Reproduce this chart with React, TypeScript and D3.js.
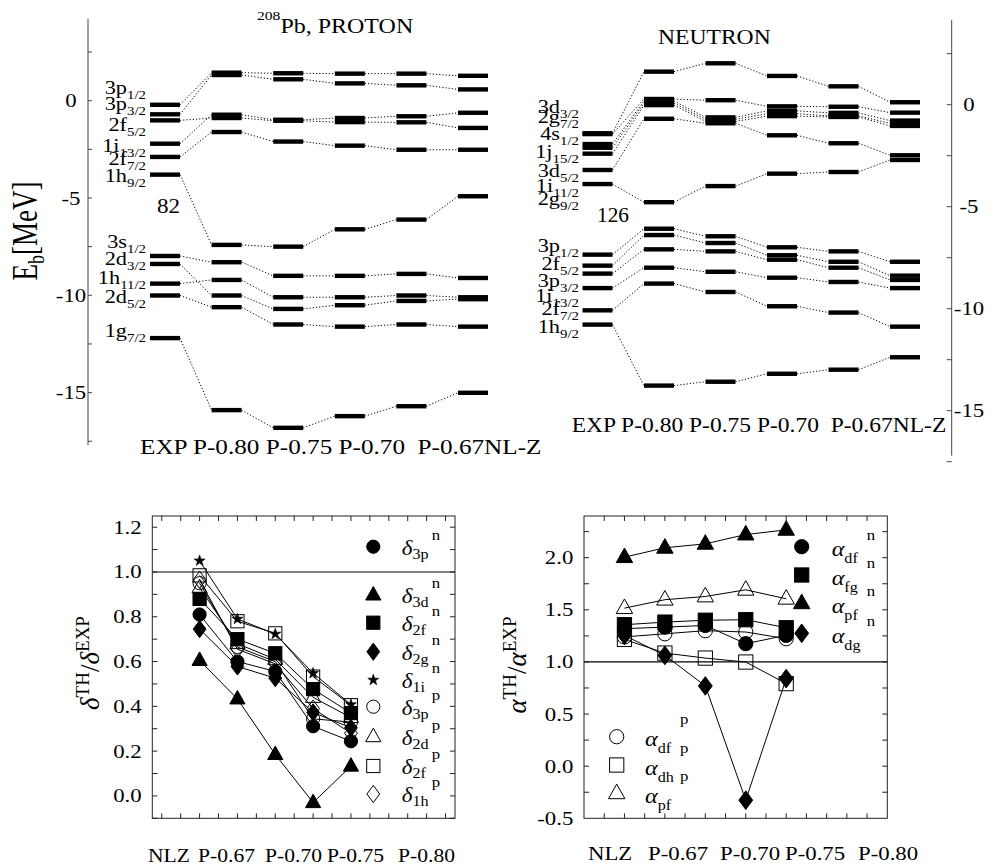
import React from "react";
import * as d3 from "d3";

// ---------- DATA ----------
const columns = ["EXP", "P-0.80", "P-0.75", "P-0.70", "P-0.67", "NL-Z"];
const columnGaps = [" ", " ", " ", "  ", ""];

// Proton single-particle energies (MeV) across columns
const p3p12 = [-0.21, 1.44, 1.41, 1.39, 1.39, 1.28];
const p3p32 = [-0.7, 1.32, 1.1, 0.89, 0.79, 0.58];
const p1i132 = [-2.21, -0.72, -0.98, -0.89, -0.8, -0.62];
const p2f52 = [-1.01, -0.89, -1.03, -1.1, -1.11, -1.4];
const p2f72 = [-2.89, -1.61, -2.1, -2.31, -2.52, -2.52];
const p1h92 = [-3.8, -7.41, -7.5, -6.61, -6.11, -4.91];
const p3s12 = [-7.98, -8.3, -9.0, -9.0, -8.9, -9.11];
const p1h112 = [-9.4, -9.21, -10.1, -10.1, -10.01, -10.1];
const p2d32 = [-8.39, -10.01, -10.7, -10.51, -10.29, -10.2];
const p2d52 = [-10.01, -10.61, -11.5, -11.61, -11.5, -11.61];
const p1g72 = [-12.2, -15.9, -16.81, -16.21, -15.7, -15.01];
const protonSeries = [p3p12, p3p32, p1i132, p2f52, p2f72, p1h92, p3s12, p1h112, p2d32, p2d52, p1g72];
const protonLabelNames = ["3p1/2", "3p3/2", "2f5/2", "1i13/2", "2f7/2", "1h9/2", "3s1/2", "2d3/2", "1h11/2", "2d5/2", "1g7/2"];
const protonLabelE = [0.34, -0.48, -1.54, -2.62, -3.3, -4.16, -7.58, -8.44, -9.41, -10.39, -12.12];

// Neutron single-particle energies (MeV)
const n3d32 = [-1.4, 1.62, 2.03, 1.41, 0.9, 0.12];
const n2g72 = [-1.44, 0.28, 0.22, -0.08, -0.1, -0.39];
const n4s12 = [-1.93, 0.18, -0.62, -0.3, -0.4, -0.78];
const n1j152 = [-2.11, 0.08, -0.72, -0.44, -0.55, -0.91];
const n3d52 = [-2.4, -0.02, -0.82, -0.56, -0.6, -1.04];
const n1i112 = [-3.2, -0.69, -0.91, -1.5, -1.89, -2.48];
const n2g92 = [-3.89, -4.78, -3.99, -3.38, -3.3, -2.71];
const n3p12 = [-7.35, -6.08, -6.45, -6.99, -7.19, -7.7];
const n2f52 = [-7.89, -6.39, -6.78, -7.38, -7.7, -8.38];
const n3p32 = [-8.28, -7.09, -7.19, -7.6, -7.99, -8.59];
const n1i132 = [-8.99, -7.99, -8.19, -8.48, -8.69, -8.99];
const n2f72 = [-10.08, -8.77, -9.18, -9.88, -10.19, -10.88];
const n1h92 = [-10.78, -13.77, -13.58, -13.19, -12.99, -12.38];
const neutronSeries = [n3d32, n2g72, n4s12, n1j152, n3d52, n1i112, n2g92, n3p12, n2f52, n3p32, n1i132, n2f72, n1h92];
const neutronLabelNames = ["3d3/2", "2g7/2", "4s1/2", "1j15/2", "3d5/2", "1i11/2", "2g9/2", "3p1/2", "2f5/2", "3p3/2", "1i13/2", "2f7/2", "1h9/2"];
const neutronLabelE = [-0.42, -0.91, -1.73, -2.63, -3.53, -4.26, -4.92, -7.21, -8.1, -8.92, -9.66, -10.31, -11.21];

const energyTicks = [2.5, 0, -2.5, -5, -7.5, -10, -12.5, -15, -17.5];
const energyTickLabels = [0, -5, -10, -15];

// Bottom panels
const bottomCats = ["NLZ", "P-0.67", "P-0.70", "P-0.75", "P-0.80"];

const d3p_n = [0.81, 0.6, 0.556, 0.311, 0.244];
const d3d_n = [0.605, 0.433, 0.185, -0.03, 0.133];
const d2f_n = [0.88, 0.7, 0.637, 0.477, 0.37];
const d2g_n = [0.745, 0.578, 0.526, 0.373, 0.304];
const d1i_n = [1.05, 0.79, 0.723, 0.548, 0.408];
const d3p_p = [0.95, 0.665, 0.6, 0.344, 0.33];
const d2d_p = [0.93, 0.68, 0.61, 0.44, 0.35];
const d2f_p = [0.985, 0.78, 0.726, 0.533, 0.405];
const d1h_p = [0.965, 0.655, 0.59, 0.39, 0.28];

const a_df_n = [1.319, 1.334, 1.35, 1.175, 1.255];
const a_fg_n = [1.357, 1.382, 1.4, 1.405, 1.328];
const a_pf_n = [2.005, 2.095, 2.133, 2.222, 2.267];
const a_dg = [1.255, 1.063, 0.77, -0.326, 0.84];
const a_df_p = [1.24, 1.27, 1.3, 1.287, 1.223];
const a_dh_p = [1.216, 1.085, 1.037, 0.999, 0.792];
const a_pf_p = [1.516, 1.597, 1.628, 1.692, 1.606];

type Shape = "circle" | "square" | "triangle" | "diamond" | "star";
const deltaSeries: { sub: string; sup: string; values: number[]; shape: Shape; filled: boolean }[] = [
  { sub: "3p", sup: "n", values: d3p_n, shape: "circle", filled: true },
  { sub: "3d", sup: "n", values: d3d_n, shape: "triangle", filled: true },
  { sub: "2f", sup: "n", values: d2f_n, shape: "square", filled: true },
  { sub: "2g", sup: "n", values: d2g_n, shape: "diamond", filled: true },
  { sub: "1i", sup: "n", values: d1i_n, shape: "star", filled: true },
  { sub: "3p", sup: "p", values: d3p_p, shape: "circle", filled: false },
  { sub: "2d", sup: "p", values: d2d_p, shape: "triangle", filled: false },
  { sub: "2f", sup: "p", values: d2f_p, shape: "square", filled: false },
  { sub: "1h", sup: "p", values: d1h_p, shape: "diamond", filled: false },
];
const alphaSeries: { sub: string; sup: string; values: number[]; shape: Shape; filled: boolean }[] = [
  { sub: "df", sup: "n", values: a_df_n, shape: "circle", filled: true },
  { sub: "fg", sup: "n", values: a_fg_n, shape: "square", filled: true },
  { sub: "pf", sup: "n", values: a_pf_n, shape: "triangle", filled: true },
  { sub: "dg", sup: "n", values: a_dg, shape: "diamond", filled: true },
  { sub: "df", sup: "p", values: a_df_p, shape: "circle", filled: false },
  { sub: "dh", sup: "p", values: a_dh_p, shape: "square", filled: false },
  { sub: "pf", sup: "p", values: a_pf_p, shape: "triangle", filled: false },
];

// ---------- LAYOUT ----------
const FONT = "'Liberation Serif', 'Times New Roman', Times, serif";
const STROKE = "#222";

const T = ({ x, y, s = 19, sx = 1.2, a = "start", it = false, children }: any) => (
  <text
    transform={`translate(${x},${y}) scale(${sx},1)`}
    fontSize={s}
    textAnchor={a}
    fontStyle={it ? "italic" : undefined}
    style={{ whiteSpace: "pre" }}
  >
    {children}
  </text>
);

function Marker({ shape, filled, cx, cy, k = 1 }: { shape: Shape; filled: boolean; cx: number; cy: number; k?: number }) {
  const fill = filled ? "#000" : "none";
  const common = { fill, stroke: "#000", strokeWidth: 1 };
  if (shape === "circle") return <circle cx={cx} cy={cy} r={6.6 * k} {...common} />;
  if (shape === "square") {
    const h = 6.6 * k;
    return <rect x={cx - h} y={cy - h} width={2 * h} height={2 * h} {...common} />;
  }
  if (shape === "triangle") {
    const pts = [[0, -8.5], [7.6, 5], [-7.6, 5]].map(([a, b]) => `${cx + a * k},${cy + b * k}`).join(" ");
    return <polygon points={pts} {...common} />;
  }
  if (shape === "diamond") {
    const pts = [[0, -8.6], [6.4, 0], [0, 8.6], [-6.4, 0]].map(([a, b]) => `${cx + a * k},${cy + b * k}`).join(" ");
    return <polygon points={pts} {...common} />;
  }
  // star
  const pts: string[] = [];
  for (let i = 0; i < 10; i++) {
    const r = i % 2 === 0 ? 5.8 : 2.3;
    const ang = -Math.PI / 2 + (i * Math.PI) / 5;
    pts.push(`${cx + r * Math.cos(ang)},${cy + r * Math.sin(ang)}`);
  }
  return <polygon points={pts.join(" ")} fill="#000" stroke="#000" strokeWidth={0.6} />;
}

function LevelPanel({
  series, xS, yS, labels, labelE, labelX,
}: { series: number[][]; xS: d3.ScalePoint<string>; yS: d3.ScaleLinear<number, number>; labels: string[]; labelE: number[]; labelX: number }) {
  const hw = 15;
  return (
    <g>
      {series.map((vals, si) => (
        <g key={si}>
          {vals.slice(0, -1).map((v, i) => (
            <line
              key={"c" + i}
              x1={(xS(columns[i]) as number) + hw}
              y1={yS(v)}
              x2={(xS(columns[i + 1]) as number) - hw}
              y2={yS(vals[i + 1])}
              stroke="#000"
              strokeWidth={1}
              strokeDasharray="1.2 2"
            />
          ))}
          {vals.map((v, i) => (
            <rect key={"b" + i} x={(xS(columns[i]) as number) - hw} y={yS(v) - 2.2} width={2 * hw} height={4.4} fill="#000" />
          ))}
        </g>
      ))}
      {labels.map((name, i) => (
        <T key={name + i} x={labelX} y={yS(labelE[i])} s={18} sx={1.24} a="end">
          {name.slice(0, 2)}
          <tspan fontSize={12} dy={5}>
            {name.slice(2)}
          </tspan>
        </T>
      ))}
    </g>
  );
}

export default function App() {
  // ---- top panels ----
  const yP = d3.scaleLinear().domain([0, -5]).range([100.7, 198]);
  const xP = d3.scalePoint<string>().domain(columns).range([165, 473]);
  const yN = d3.scaleLinear().domain([0, -5]).range([104.7, 206.7]);
  const xN = d3.scalePoint<string>().domain(columns).range([597.5, 905]);
  const colString = columns.map((c, i) => c + (columnGaps[i] || "")).join("");

  // ---- bottom-left ----
  const L = { x0: 152.3, x1: 455, y0: 516, y1: 818.3 };
  const xL = d3.scaleLinear().domain([-1.25, 6.75]).range([L.x0, L.x1]);
  const yL = d3.scaleLinear().domain([-0.1, 1.25]).range([L.y1, L.y0]);
  // ---- bottom-right ----
  const R = { x0: 584, x1: 887.3, y0: 516, y1: 818.3 };
  const xR = d3.scaleLinear().domain([-1, 6.5]).range([R.x0, R.x1]);
  const yR = d3.scaleLinear().domain([-0.5, 2.4]).range([R.y1, R.y0]);

  const lineGen = (xs: any, ys: any) =>
    d3.line<number>().x((_, i) => xs(i)).y((v) => ys(v));

  const leftCatX = [148, 198, 265, 327, 398];
  const rightCatX = [588, 648, 720, 785, 858];
  const deltaLegendY = [546.7, 595, 622.7, 651.7, 680, 706.7, 736.7, 766, 794];
  const alphaLegendY = [546.7, 575, 603.3, 633.3, 736.7, 765, 793.3];

  const drawOrderDelta = [5, 6, 7, 8, 0, 1, 2, 3, 4];
  const drawOrderAlpha = [4, 5, 6, 0, 1, 2, 3];

  return (
    <svg
      width={993}
      height={867}
      style={{ position: "absolute", left: 0, top: 0, background: "#fff" }}
      fontFamily={FONT}
    >
      <rect x={0} y={0} width={993} height={867} fill="#fff" />

      {/* ===== TOP: PROTON ===== */}
      <line x1={88} x2={88} y1={yP(4.2)} y2={yP(-17.7)} stroke="#444" strokeWidth={1} />
      {energyTicks.map((t) => (
        <line key={t} x1={88} x2={92} y1={yP(t)} y2={yP(t)} stroke="#444" strokeWidth={1} />
      ))}
      {energyTickLabels.map((t) => (
        <T key={t} x={71} y={yP(t) + 6.5} s={19} sx={1.2} a="middle">
          {String(t)}
        </T>
      ))}
      <text transform="translate(37,231) rotate(-90) scale(1,1.3)" fontSize={27} textAnchor="middle">
        E<tspan fontSize={18} dy={5}>b</tspan>
        <tspan dy={-5}>[MeV]</tspan>
      </text>
      <T x={257} y={33} s={20} sx={1.2}>
        <tspan fontSize={13} dy={-13}>208</tspan>
        <tspan dy={13}>Pb, PROTON</tspan>
      </T>
      <LevelPanel series={protonSeries} xS={xP} yS={yP} labels={protonLabelNames} labelE={protonLabelE} labelX={146} />
      <T x={157} y={213} s={22} sx={1.05}>82</T>
      <T x={140} y={454} s={21} sx={1.2}>{colString}</T>

      {/* ===== TOP: NEUTRON ===== */}
      <line x1={951.7} x2={951.7} y1={yN(4.15)} y2={yN(-17.2)} stroke="#444" strokeWidth={1} />
      {energyTicks.map((t) => (
        <line key={t} x1={946.7} x2={951.7} y1={yN(t)} y2={yN(t)} stroke="#444" strokeWidth={1} />
      ))}
      {energyTickLabels.map((t) => (
        <T key={t} x={969} y={yN(t) + 6.5} s={19} sx={1.2} a="middle">
          {String(t)}
        </T>
      ))}
      <T x={658} y={44} s={20} sx={1.18}>NEUTRON</T>
      <LevelPanel series={neutronSeries} xS={xN} yS={yN} labels={neutronLabelNames} labelE={neutronLabelE} labelX={579} />
      <T x={597} y={221.7} s={22} sx={0.97}>126</T>
      <T x={571.7} y={431.7} s={21} sx={1.12}>{colString}</T>

      {/* ===== BOTTOM-LEFT ===== */}
      <g>
        <line x1={L.x0} x2={L.x1} y1={yL(1)} y2={yL(1)} stroke="#000" strokeWidth={1.2} />
        {d3.range(-1, 13).map((k) => (
          <g key={k}>
            <line x1={L.x0} x2={L.x0 + 5} y1={yL(k / 10)} y2={yL(k / 10)} stroke={STROKE} />
            <line x1={L.x1 - 5} x2={L.x1} y1={yL(k / 10)} y2={yL(k / 10)} stroke={STROKE} />
          </g>
        ))}
        {d3.range(-2, 14).map((k) => (
          <g key={k}>
            <line x1={xL(k / 2)} x2={xL(k / 2)} y1={L.y1} y2={L.y1 - 5} stroke={STROKE} />
            <line x1={xL(k / 2)} x2={xL(k / 2)} y1={L.y0} y2={L.y0 + 5} stroke={STROKE} />
          </g>
        ))}
        {d3.range(0, 13, 2).map((k) => (
          <T key={k} x={141.7} y={yL(k / 10) + 6.5} s={19} sx={1.2} a="end">
            {(k / 10).toFixed(1)}
          </T>
        ))}
        {bottomCats.map((c, i) => (
          <T key={c} x={leftCatX[i]} y={862} s={18} sx={1.2}>{c}</T>
        ))}
        {deltaSeries.map((s, si) => (
          <path key={si} d={lineGen(xL, yL)(s.values) || ""} fill="none" stroke="#000" strokeWidth={1} />
        ))}
        {drawOrderDelta.map((si) => {
          const s = deltaSeries[si];
          return s.values.map((v, i) => (
            <Marker key={si + "-" + i} shape={s.shape} filled={s.filled} cx={xL(i)} cy={yL(v)} />
          ));
        })}
        <rect x={L.x0} y={L.y0} width={L.x1 - L.x0} height={L.y1 - L.y0} fill="none" stroke={STROKE} strokeWidth={1} />
        {deltaSeries.map((s, i) => {
          const yc = deltaLegendY[i];
          return (
            <g key={"lg" + i}>
              <Marker shape={s.shape} filled={s.filled} cx={373.3} cy={yc} />
              <T x={401.7} y={yc + 8} s={20} sx={1.15} it>
                δ<tspan fontSize={14} fontStyle="normal" dy={4}>{s.sub}</tspan>
              </T>
              <T x={431.7} y={yc - 7} s={14} sx={1.2}>{s.sup}</T>
            </g>
          );
        })}
        <text transform="translate(99,663) rotate(-90)" fontSize={27} textAnchor="middle">
          <tspan fontStyle="italic">δ</tspan>
          <tspan fontSize={19} dy={-10}>TH</tspan>
          <tspan dy={10}>/</tspan>
          <tspan fontStyle="italic">δ</tspan>
          <tspan fontSize={19} dy={-10}>EXP</tspan>
        </text>
      </g>

      {/* ===== BOTTOM-RIGHT ===== */}
      <g>
        <line x1={R.x0} x2={R.x1} y1={yR(1)} y2={yR(1)} stroke="#000" strokeWidth={1.2} />
        {d3.range(-1, 10).map((k) => (
          <g key={k}>
            <line x1={R.x0} x2={R.x0 + 5} y1={yR(k / 4)} y2={yR(k / 4)} stroke={STROKE} />
            <line x1={R.x1 - 5} x2={R.x1} y1={yR(k / 4)} y2={yR(k / 4)} stroke={STROKE} />
          </g>
        ))}
        {d3.range(-1, 13).map((k) => (
          <g key={k}>
            <line x1={xR(k / 2)} x2={xR(k / 2)} y1={R.y1} y2={R.y1 - 5} stroke={STROKE} />
            <line x1={xR(k / 2)} x2={xR(k / 2)} y1={R.y0} y2={R.y0 + 5} stroke={STROKE} />
          </g>
        ))}
        {d3.range(-1, 5).map((k) => (
          <T key={k} x={573.3} y={yR(k / 2) + 6.5} s={19} sx={1.2} a="end">
            {(k / 2).toFixed(1)}
          </T>
        ))}
        {bottomCats.map((c, i) => (
          <T key={c} x={rightCatX[i]} y={860} s={19} sx={1.2}>{c}</T>
        ))}
        {alphaSeries.map((s, si) => (
          <path key={si} d={lineGen(xR, yR)(s.values) || ""} fill="none" stroke="#000" strokeWidth={1} />
        ))}
        {drawOrderAlpha.map((si) => {
          const s = alphaSeries[si];
          return s.values.map((v, i) => (
            <Marker key={si + "-" + i} shape={s.shape} filled={s.filled} cx={xR(i)} cy={yR(v)} k={1.08} />
          ));
        })}
        <rect x={R.x0} y={R.y0} width={R.x1 - R.x0} height={R.y1 - R.y0} fill="none" stroke={STROKE} strokeWidth={1} />
        {alphaSeries.map((s, i) => {
          const yc = alphaLegendY[i];
          const right = i < 4;
          const mx = right ? 801.7 : 616.7;
          const ax = right ? 831.7 : 645;
          const supX = right ? 866.7 : 680;
          const supY = right ? yc - 7 : yc - 12.5;
          return (
            <g key={"la" + i}>
              <Marker shape={s.shape} filled={s.filled} cx={mx} cy={yc} k={1.08} />
              <T x={ax} y={yc + 9.5} s={21} sx={1.15} it>
                α<tspan fontSize={14} fontStyle="normal" dy={7}>{s.sub}</tspan>
              </T>
              <T x={supX} y={supY} s={14} sx={1.2}>{s.sup}</T>
            </g>
          );
        })}
        <text transform="translate(526,665) rotate(-90)" fontSize={27} textAnchor="middle">
          <tspan fontStyle="italic">α</tspan>
          <tspan fontSize={19} dy={-10}>TH</tspan>
          <tspan dy={10}>/</tspan>
          <tspan fontStyle="italic">α</tspan>
          <tspan fontSize={19} dy={-10}>EXP</tspan>
        </text>
      </g>
    </svg>
  );
}
